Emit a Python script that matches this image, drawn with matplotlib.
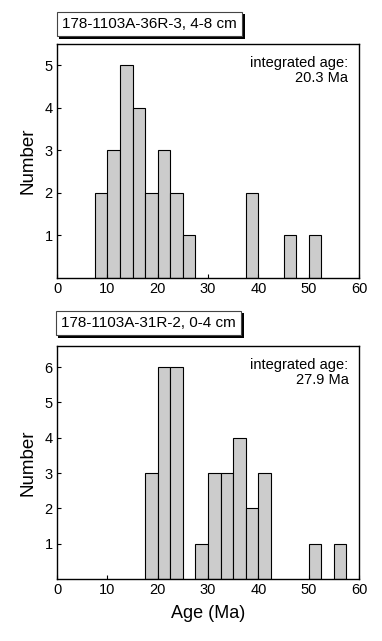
import numpy as np
import matplotlib
matplotlib.use('Agg')
import matplotlib.pyplot as plt
import matplotlib.patheffects as pe

plt.rcParams['font.family'] = ['Liberation Sans', 'DejaVu Sans']

# bin left edges (Ma), bin width 2.5 Ma
bin_width = 2.5

# 178-1103A-36R-3, 4-8 cm
top_edges = [7.5, 10, 12.5, 15, 17.5, 20, 22.5, 25, 37.5, 45, 50]
top_counts = [2, 3, 5, 4, 2, 3, 2, 1, 2, 1, 1]
top_label = '178-1103A-36R-3, 4-8 cm'
top_age = 'integrated age:\n20.3 Ma'

# 178-1103A-31R-2, 0-4 cm
bot_edges = [17.5, 20, 22.5, 27.5, 30, 32.5, 35, 37.5, 40, 50, 55]
bot_counts = [3, 6, 6, 1, 3, 3, 4, 2, 3, 1, 1]
bot_label = '178-1103A-31R-2, 0-4 cm'
bot_age = 'integrated age:\n27.9 Ma'

W, H = 382, 641
fig = plt.figure(figsize=(W / 100, H / 100), dpi=100)


def px_axes(left, top, right, bottom):
    return fig.add_axes([left / W, 1 - bottom / H, (right - left) / W, (bottom - top) / H])


def draw(ax, edges, counts, ymax, yticks, age_txt):
    ax.bar(edges, counts, width=bin_width, align='edge', color='#cccccc',
           edgecolor='black', linewidth=0.8)
    ax.set_xlim(0, 60)
    ax.set_ylim(0, ymax)
    ax.set_xticks([0, 10, 20, 30, 40, 50, 60])
    ax.set_yticks(yticks)
    ax.tick_params(direction='in', length=3, width=0.8, labelsize=10.5, pad=3)
    for s in ax.spines.values():
        s.set_linewidth(1.0)
    ax.set_ylabel('Number', fontsize=13.5, labelpad=6)
    ax.text(0.965, 0.95, age_txt, transform=ax.transAxes, ha='right', va='top',
            fontsize=10.5, multialignment='right', linespacing=1.15)


def label_box(x, y, txt):
    t = fig.text(x / W, 1 - y / H, txt, ha='left', va='center', fontsize=11,
                 bbox=dict(boxstyle='square,pad=0.35', fc='white', ec='#444444', lw=0.8))
    t.get_bbox_patch().set_path_effects([
        pe.SimplePatchShadow(offset=(2, -2), shadow_rgbFace='black', alpha=1),
        pe.Normal()])


ax1 = px_axes(57, 44, 359, 278)
draw(ax1, top_edges, top_counts, 5.5, [1, 2, 3, 4, 5], top_age)

ax2 = px_axes(57, 346, 359, 579)
draw(ax2, bot_edges, bot_counts, 6.6, [1, 2, 3, 4, 5, 6], bot_age)
ax2.set_xlabel('Age (Ma)', fontsize=13, labelpad=6)

label_box(62, 24, top_label)
label_box(61, 323, bot_label)

fig.savefig('out.png', dpi=100)
